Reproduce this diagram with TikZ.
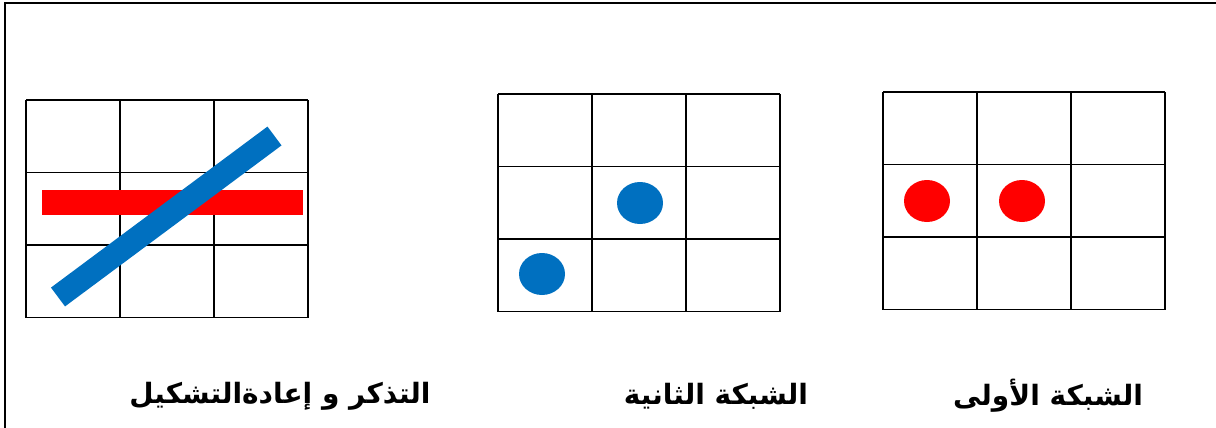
\documentclass[tikz,border=0pt]{standalone}
\usepackage{fontspec}
\usepackage{xcolor}
\usepackage{tikz}
\newfontfamily\arabicfont[Script=Arabic]{DejaVu Sans}
\TeXXeTstate=1
\definecolor{dotblue}{HTML}{0070C0}
\definecolor{dotred}{HTML}{FF0000}

\begin{document}
\begin{tikzpicture}[x=1pt, y=-1pt,
  cellline/.style={line width=1.9pt, black},
  bluedot/.style={fill=dotblue, x radius=23, y radius=21},
  reddot/.style={fill=dotred, x radius=23, y radius=21},
  gridlabel/.style={font=\arabicfont\bfseries\fontsize{28}{32}\selectfont, inner sep=0pt}
]
\useasboundingbox (0,0) rectangle (1216,428);
\draw[line width=1.7pt] (5,428) -- (5,3) -- (1216,3);

% three 3x3 grids
\foreach \gx/\gy in {26/100, 498/94, 883/92} {
  \foreach \i in {0,1,2,3} {
    \draw[cellline] (\gx+94*\i,\gy) -- (\gx+94*\i,\gy+217.5);
    \draw[cellline] (\gx,\gy+72.5*\i) -- (\gx+282,\gy+72.5*\i);
  }
}

% first grid
\fill[reddot] (927,201) ellipse [];
\fill[reddot] (1022,201) ellipse [];
% second grid
\fill[bluedot] (640,203) ellipse [];
\fill[bluedot] (542,274) ellipse [];
% recall grid
\fill[dotred] (42,190) rectangle (303,215);
\draw[dotblue, line width=23.5pt] (58,297) -- (274.5,136);

\node[gridlabel] (first) at (1048,396) {\beginR الشبكة الأولى\endR};
\node[gridlabel] (second) at (716,396) {\beginR الشبكة الثانية\endR};
\node[gridlabel] (recall) at (280,396) {\beginR التذكر و إعادةالتشكيل\endR};
\end{tikzpicture}
\end{document}
